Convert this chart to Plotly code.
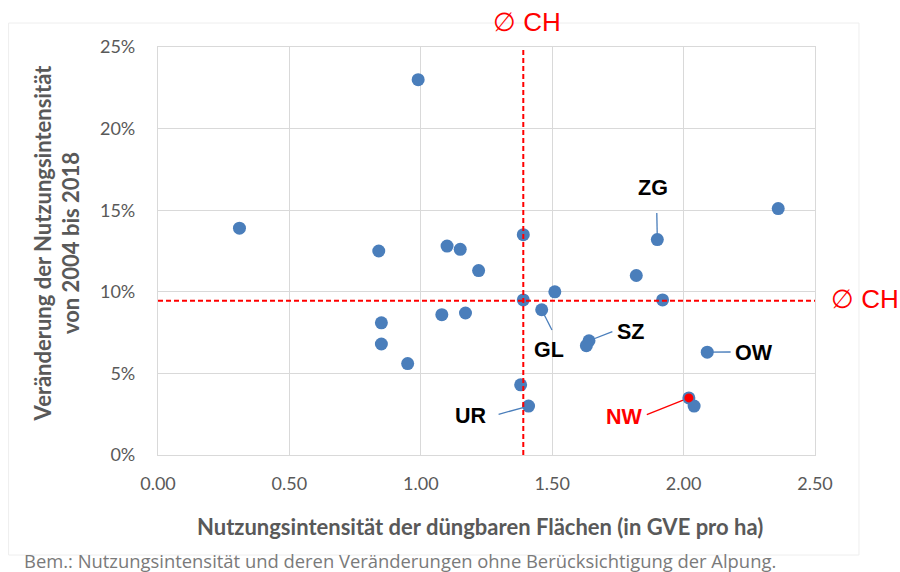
import plotly.graph_objects as go

# ---- data (x: GVE per ha, y: change in %) ----
x_vals = [0.31, 0.99, 0.84, 1.10, 1.15, 1.22, 1.39, 1.51, 1.82, 1.90, 2.36,
          0.85, 0.85, 0.95, 1.08, 1.17, 1.39, 1.46, 1.64, 1.63, 1.92, 2.09,
          1.38, 1.41, 2.02, 2.04]
y_vals = [13.9, 23.0, 12.5, 12.8, 12.6, 11.3, 13.5, 10.0, 11.0, 13.2, 15.1,
          8.1, 6.8, 5.6, 8.6, 8.7, 9.5, 8.9, 7.0, 6.7, 9.5, 6.3,
          4.3, 3.0, 3.5, 3.0]

avg_x = 1.39
avg_y = 9.45

# labelled cantons: name, point, label position, leader start
lab_names = ["ZG", "SZ", "GL", "OW", "UR", "NW"]
lab_px = [1.90, 1.64, 1.46, 2.09, 1.41, 2.02]
lab_py = [13.2, 7.0, 8.9, 6.3, 3.0, 3.5]
lab_tx = [1.883, 1.797, 1.486, 2.268, 1.191, 1.774]
lab_ty = [16.34, 7.56, 6.43, 6.27, 2.39, 2.35]
lead_x = [1.898, 1.729, 1.499, 2.179, 1.296, 1.860]
lead_y = [14.83, 7.56, 7.66, 6.31, 2.49, 2.47]
lab_col = ["black", "black", "black", "black", "black", "red"]

x_ticks = [0, 0.5, 1.0, 1.5, 2.0, 2.5]
y_ticks = [0, 5, 10, 15, 20, 25]

BLUE = "#4a7ebb"
GRID = "#d9d9d9"
TXT = "#595959"

fig = go.Figure()

fig.add_trace(go.Scatter(x=x_vals, y=y_vals, mode="markers",
                         marker=dict(size=13, color=BLUE), showlegend=False,
                         hoverinfo="x+y"))
# NW highlighted in red
nw = lab_names.index("NW")
fig.add_trace(go.Scatter(x=[lab_px[nw]], y=[lab_py[nw]], mode="markers",
                         marker=dict(size=9, color="red"), showlegend=False))

shapes = []
# leader lines (below markers)
for i in range(len(lab_names)):
    shapes.append(dict(type="line", xref="x", yref="y", layer="between",
                       x0=lead_x[i], y0=lead_y[i], x1=lab_px[i], y1=lab_py[i],
                       line=dict(color=("red" if lab_col[i] == "red" else BLUE), width=1.3)))
# average lines
shapes.append(dict(type="line", xref="x", yref="y", layer="above",
                   x0=avg_x, x1=avg_x, y0=0, y1=25,
                   line=dict(color="red", width=2, dash="5px,3px")))
shapes.append(dict(type="line", xref="x", yref="y", layer="above",
                   x0=0, x1=2.5, y0=avg_y, y1=avg_y,
                   line=dict(color="red", width=2, dash="5px,3px")))
# outer chart frame
shapes.append(dict(type="rect", xref="paper", yref="paper", layer="below",
                   x0=-0.2274, x1=1.0669, y0=-0.2451, y1=1.0588,
                   line=dict(color="#eeeeee", width=1), fillcolor="rgba(0,0,0,0)"))

annotations = []
for i in range(len(lab_names)):
    annotations.append(dict(x=lab_tx[i], y=lab_ty[i], xref="x", yref="y",
                            text="<b>%s</b>" % lab_names[i], showarrow=False,
                            font=dict(family="Liberation Sans, Arial", size=21.5, color=lab_col[i]),
                            xanchor="center", yanchor="middle"))
annotations.append(dict(x=avg_x, y=1.0588 + 0.0025, xref="x", yref="paper",
                        text="∅ CH", showarrow=False, xanchor="center", yanchor="middle",
                        xshift=4,
                        font=dict(family="Liberation Sans, Arial", size=26, color="red")))
annotations.append(dict(x=1.0, y=avg_y, xref="paper", yref="y",
                        text="∅ CH", showarrow=False, xanchor="left", yanchor="middle",
                        xshift=14, yshift=2,
                        font=dict(family="Liberation Sans, Arial", size=26, color="red")))
# axis titles
annotations.append(dict(x=-0.1544, y=0.52, xref="paper", yref="paper",
                        text="<b>Veränderung der Nutzungsintensität<br>von 2004 bis 2018</b>",
                        textangle=-90, showarrow=False, xanchor="center", yanchor="middle",
                        font=dict(family="Lato", size=22, color=TXT)))
annotations.append(dict(x=0.4905, y=-0.1757, xref="paper", yref="paper",
                        text="<b>Nutzungsintensität der düngbaren Flächen (in GVE pro ha)</b>",
                        showarrow=False, xanchor="center", yanchor="middle",
                        font=dict(family="Lato", size=22, color=TXT)))
# footnote
annotations.append(dict(x=-0.207, y=-0.259, xref="paper", yref="paper",
                        text="Bem.: Nutzungsintensität und deren Veränderungen ohne Berücksichtigung der Alpung.",
                        showarrow=False, xanchor="left", yanchor="middle",
                        font=dict(family="Open Sans", size=18.4, color="#7a7a7a")))

fig.update_layout(
    width=900, height=572,
    margin=dict(l=157.5, r=85, t=47, b=117),
    paper_bgcolor="white", plot_bgcolor="white",
    shapes=shapes, annotations=annotations,
    font=dict(family="Lato", color=TXT),
    xaxis=dict(range=[0, 2.5], tickvals=x_ticks, ticktext=["%.2f" % v for v in x_ticks],
               showgrid=True, gridcolor=GRID, gridwidth=1.3, zeroline=False,
               showline=True, mirror=True, linecolor=GRID, linewidth=1.3,
               ticks="outside", ticklen=12, tickcolor="rgba(0,0,0,0)",
               tickfont=dict(family="Lato", size=18, color=TXT), fixedrange=True),
    yaxis=dict(range=[0, 25], tickvals=y_ticks, ticktext=["%d%%" % v for v in y_ticks],
               showgrid=True, gridcolor=GRID, gridwidth=1.3, zeroline=False,
               showline=True, mirror=True, linecolor=GRID, linewidth=1.3,
               ticks="outside", ticklen=18, tickcolor="rgba(0,0,0,0)",
               tickfont=dict(family="Lato", size=18, color=TXT), fixedrange=True),
)

fig.write_html("out.html", config={"displayModeBar": False},
               post_script="document.body.style.margin='0';document.body.style.padding='0';")
